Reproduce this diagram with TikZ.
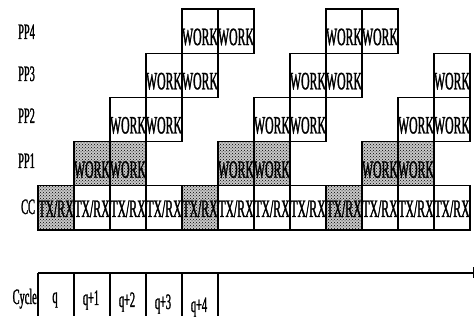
\documentclass[tikz,border=0pt]{standalone}
\usepackage{fontspec}
\setmainfont{Liberation Serif}[FakeStretch=0.47,FakeBold=1.2]
\usetikzlibrary{arrows.meta,patterns}
\tikzset{
  cell/.style={draw,line width=1.2pt,minimum width=36pt,minimum height=44.2pt,inner sep=0pt,
               text height=28pt,text depth=0pt,font=\fontsize{25}{25}\selectfont},
  cccell/.style={cell,text height=18pt},
  dots/.style={preaction={fill=black!22},pattern=crosshatch dots,pattern color=black},
  plain/.style={},
  lab/.style={anchor=base west,inner sep=0pt,font=\fontsize{22}{22}\selectfont},
  clab/.style={anchor=base,inner sep=0pt,font=\fontsize{22}{22}\selectfont},
  tick/.style={line width=1.2pt},
}

\begin{document}
\begin{tikzpicture}[x=1pt,y=-1pt]
\useasboundingbox (0,0) rectangle (475,323);

% CC row, shaded every fourth cycle
\foreach \i/\sty in {0/dots,1/plain,2/plain,3/plain,4/dots,5/plain,6/plain,7/plain,8/dots,9/plain,10/plain,11/plain}
  \node[cccell,\sty] (cc\i) at (56+36*\i,207.9) {TX/RX};

% processor rows
\foreach \row/\sty/\cl in {1/dots/{1,2,5,6,9,10},2/plain/{2,3,6,7,10,11},3/plain/{3,4,7,8,11},4/plain/{4,5,8,9}}
  \foreach \i in \cl
    \node[cell,\sty] (pp\row-\i) at (56+36*\i,{207.9-44.2*\row}) {WORK};

% row labels
\foreach \row/\y in {4/39,3/81,2/123,1/168}
  \node[lab] (l\row) at (18,\y) {PP\row};
\node[lab] (lcc) at (21,214) {CC};

% cycle axis
\coordinate (ax0) at (38,273);
\coordinate (ax1) at (474,273);
\draw[tick,-{Bar[width=11pt,line width=1.2pt]}] (ax0) -- (ax1);
\foreach \i in {0,...,5} {
  \coordinate (t\i) at (38+36*\i,273);
  \draw[tick] (t\i) -- ++(0,43);
}
\node[lab,anchor=base east] (cyc) at (37,304) {Cycle};
\foreach \i/\lbl/\y in {0/q/303,1/q+1/305,2/q+2/307,3/q+3/309,4/q+4/312}
  \node[clab] (c\i) at (55+36*\i,\y) {\lbl};

\end{tikzpicture}
\end{document}
